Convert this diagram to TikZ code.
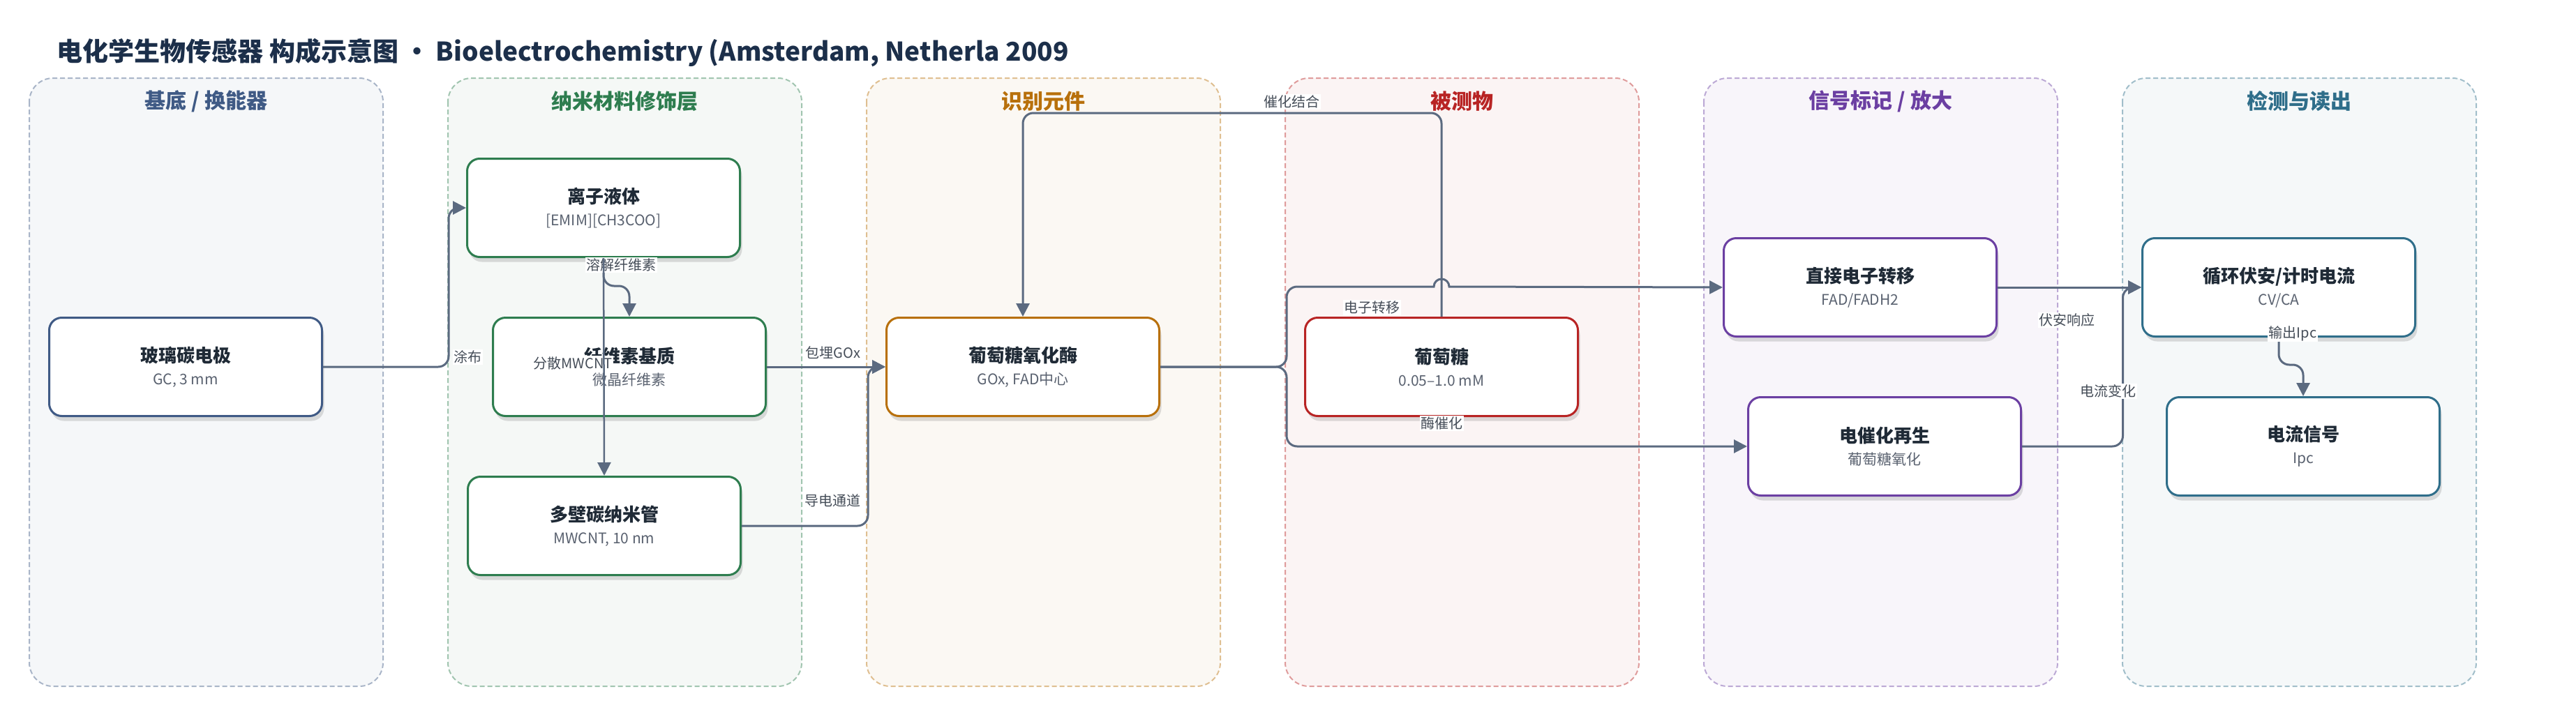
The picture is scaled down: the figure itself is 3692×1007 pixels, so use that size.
\documentclass[tikz,border=0pt]{standalone}
\usepackage{fontspec}
\setmainfont{Noto Sans CJK SC}
\usetikzlibrary{arrows.meta,shadows,calc,positioning}

\definecolor{slateA}{HTML}{3F5A85}
\definecolor{greenB}{HTML}{2E7D4F}
\definecolor{orangeC}{HTML}{B8700B}
\definecolor{redD}{HTML}{B82424}
\definecolor{purpleE}{HTML}{6B3FA2}
\definecolor{tealF}{HTML}{2F6E8A}
\definecolor{wire}{HTML}{5B6A80}
\definecolor{inkT}{HTML}{1F2A36}
\definecolor{inkS}{HTML}{5A6270}
\definecolor{inkL}{HTML}{454D58}
\definecolor{heading}{HTML}{1C2F4A}

\newcommand{\boxhead}[1]{{\fontsize{26}{32}\selectfont\bfseries\color{inkT}#1}}
\newcommand{\boxsub}[1]{{\fontsize{21}{32}\selectfont\color{inkS}#1}}

\begin{document}
\begin{tikzpicture}[x=1pt,y=-1pt]

\tikzset{lanebox/.style={draw=#1!45!white,fill=#1!5!white,line width=2pt,dash pattern=on 7pt off 4pt,rounded corners=34pt},
lanetitle/.style={text=#1,font=\fontsize{30}{34}\selectfont\bfseries},
procbox/.style={draw=#1,line width=3pt,fill=white,rounded corners=18pt,minimum width=391pt,minimum height=141pt,align=center,font=\fontsize{21}{32}\selectfont,
  drop shadow={shadow xshift=3pt,shadow yshift=-7pt,opacity=0.18,fill=black!70}},
conn/.style={draw=wire,line width=3pt,rounded corners=15pt,-{Triangle[length=19pt,width=19pt]}},
lbl/.style={fill=white,inner sep=1.5pt,text=inkL,font=\fontsize{20}{24}\selectfont}}

\useasboundingbox (0,0) rectangle (3692,1007);

% Title
\node[anchor=west,text=heading,font=\fontsize{37}{44}\selectfont\bfseries] (title) at (78,76) {电化学生物传感器 构成示意图 · Bioelectrochemistry (Amsterdam, Netherla 2009};

% Lanes
\foreach \i/\ttl/\col in {0/{基底 / 换能器}/slateA, 1/{纳米材料修饰层}/greenB, 2/{识别元件}/orangeC, 3/{被测物}/redD, 4/{信号标记 / 放大}/purpleE, 5/{检测与读出}/tealF} {
  \draw[lanebox=\col] (42+600*\i,112) rectangle ++(507,872);
  \node[lanetitle=\col] (lane\i) at (295.5+600*\i,145) {\ttl};
}

% Components
\node[procbox=slateA] (gc) at (266,526) {\boxhead{玻璃碳电极}\\\boxsub{GC, 3 mm}};
\node[procbox=greenB] (il) at (865,298) {\boxhead{离子液体}\\\boxsub{[EMIM][CH3COO]}};
\node[procbox=greenB] (cell) at (902,526) {\boxhead{纤维素基质}\\\boxsub{微晶纤维素}};
\node[procbox=greenB] (mwcnt) at (866,754) {\boxhead{多壁碳纳米管}\\\boxsub{MWCNT, 10 nm}};
\node[procbox=orangeC] (gox) at (1466,526) {\boxhead{葡萄糖氧化酶}\\\boxsub{GOx, FAD中心}};
\node[procbox=redD] (glu) at (2066,526) {\boxhead{葡萄糖}\\\boxsub{0.05–1.0 mM}};
\node[procbox=purpleE] (det) at (2666,412) {\boxhead{直接电子转移}\\\boxsub{FAD/FADH2}};
\node[procbox=purpleE] (regen) at (2701,640) {\boxhead{电催化再生}\\\boxsub{葡萄糖氧化}};
\node[procbox=tealF] (cv) at (3266,412) {\boxhead{循环伏安/计时电流}\\\boxsub{CV/CA}};
\node[procbox=tealF] (ipc) at (3301,640) {\boxhead{电流信号}\\\boxsub{Ipc}};

% Connectors
\draw[conn] (gc.east) -- ++(180,0) |- (il.west);
\node[lbl] (lbCoat) at (670,512) {涂布};
\draw[conn] (il.south) |- ($(cell.north)+(0,-44)$) -- (cell.north);
\node[lbl] (lbDiss) at (890,380) {溶解纤维素};
\node[lbl] (lbDisp) at (821,521) {分散MWCNT};
\draw[conn,line width=2.5pt] (il.south) -- (mwcnt.north);
\draw[conn] (cell.east) -- (gox.west);
\node[lbl] (lbEmb) at (1194,506) {包埋GOx};
\draw[conn] (mwcnt.east) -- ++(181,0) |- (gox.west);
\node[lbl] (lbCond) at (1193,718) {导电通道};
\draw[conn] (glu.north) -- ++(0,-292) -| (gox.north);
\node[lbl] (lbBind) at (1851,146) {催化结合};
\draw[conn] (gox.east) -- ++(181,0) |- ($(glu.north)+(-40,-43)$) [sharp corners] -- ++(29,0) arc (180:360:11) -- (det.west);
\node[lbl] (lbET) at (1966,441) {电子转移};
\draw[conn] (gox.east) -- ++(181,0) |- (regen.west);
\node[lbl] (lbEnz) at (2066,607) {酶催化};
\draw[conn] (det.east) -- (cv.west);
\node[lbl] (lbVolt) at (2962,459) {伏安响应};
\draw[conn] (regen.east) -- ++(144.5,0) |- (cv.west);
\node[lbl] (lbCur) at (3021,561) {电流变化};
\draw[conn] (cv.south) |- ($(ipc.north)+(0,-45)$) -- (ipc.north);
\node[lbl] (lbOut) at (3286,478) {输出Ipc};

\end{tikzpicture}
\end{document}
